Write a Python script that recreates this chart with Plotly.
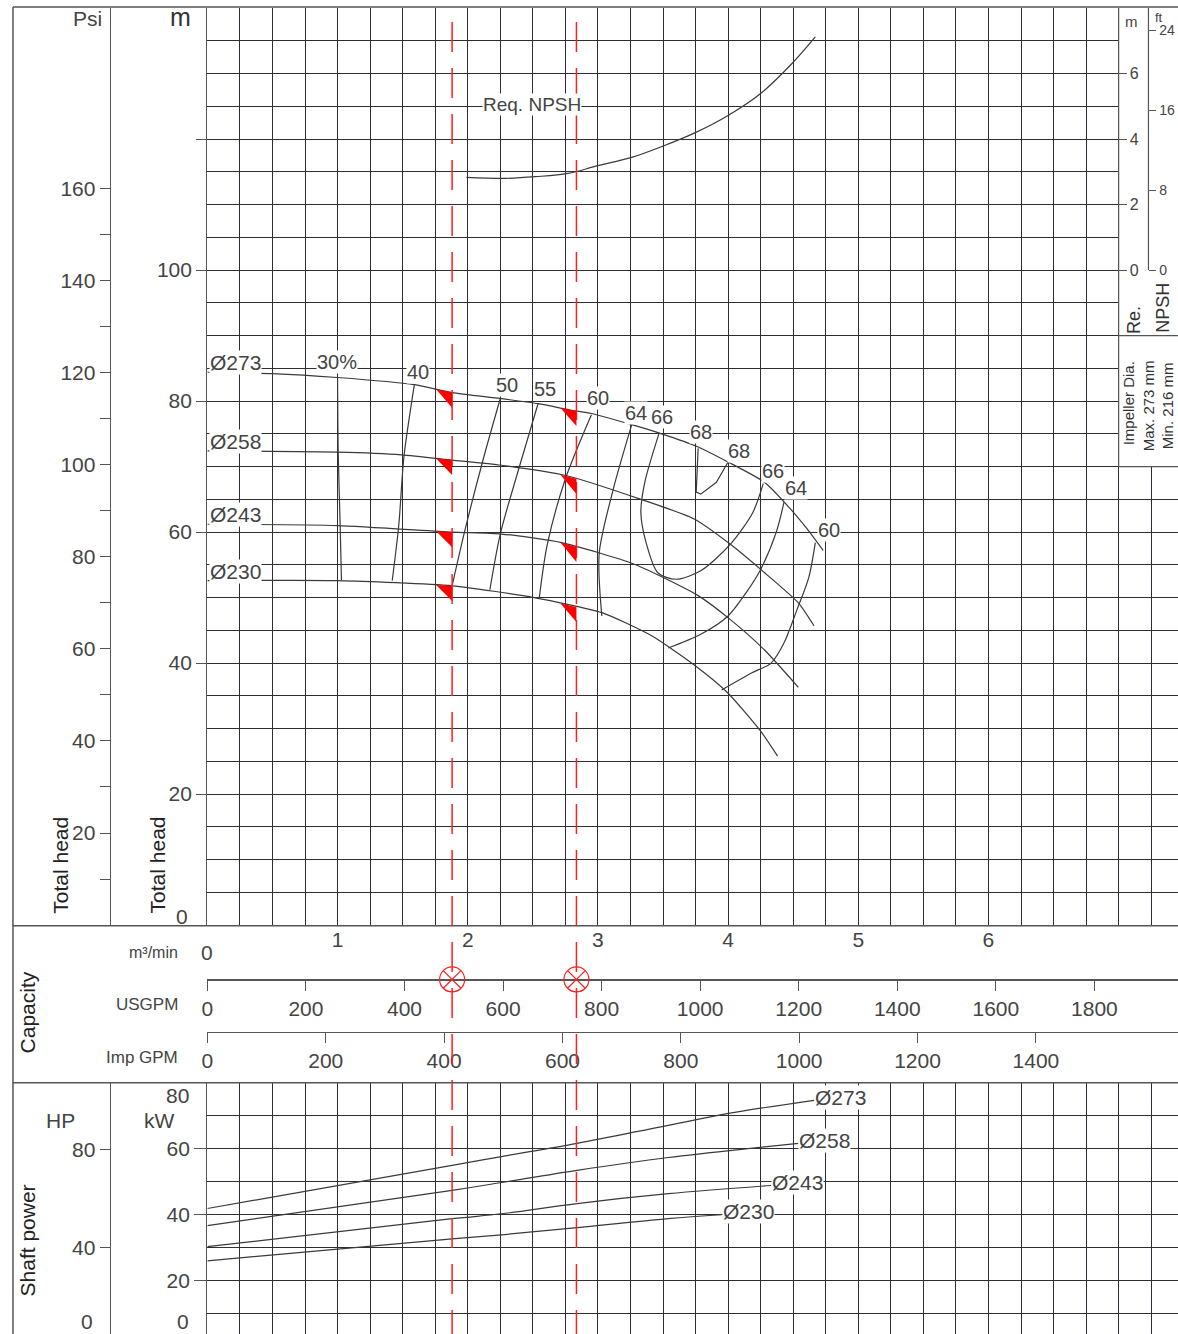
import numpy as np
import plotly.graph_objects as go

W, H = 1178, 1334          # reference picture size
FIG_W, FIG_H = 1178, 1340  # figure size
FONT = "Liberation Sans, Arial, sans-serif"
TXT = "#444444"
GRID = "#2e2e38"
AX = "#555555"
CURVE = "#3a3a3a"
RED = "#ff1f1f"

# ---------------- data ----------------
DIAMETERS = ["Ø273", "Ø258", "Ø243", "Ø230"]

# Head curves: flow (m3/min) vs total head (m)
Q_273 = [0, 0.5, 1.0, 1.59, 1.88, 2.25, 2.54, 2.80, 2.95, 3.26, 3.49, 3.77, 4.0, 4.28, 4.48, 4.61, 4.73]
H_273 = [84.4, 84.2, 83.6, 82.5, 81.3, 80.4, 79.6, 78.6, 78.1, 76.4, 75.0, 73.0, 70.7, 67.6, 63.5, 60.4, 57.2]
Q_258 = [0, 1.0, 1.49, 1.88, 2.26, 2.76, 3.33, 3.74, 4.02, 4.28, 4.54, 4.66]
H_258 = [72.4, 72.2, 71.8, 71.0, 70.2, 68.6, 65.0, 62.0, 58.1, 53.8, 49.2, 45.7]
Q_243 = [0, 1.0, 1.88, 2.26, 2.72, 3.28, 3.77, 4.02, 4.28, 4.54]
H_243 = [61.2, 61.0, 60.0, 59.7, 58.4, 55.1, 50.3, 46.6, 42.0, 36.3]
Q_230 = [0, 1.0, 1.88, 2.51, 3.03, 3.41, 3.74, 4.0, 4.25, 4.38]
H_230 = [52.6, 52.6, 51.8, 50.0, 47.7, 44.2, 39.7, 35.4, 29.6, 25.8]

# Efficiency iso-lines (%)
E30_Q = [1.0, 1.005, 1.02, 1.03];   E30_H = [83.6, 72.2, 61.1, 52.6]
E40_Q = [1.59, 1.51, 1.47, 1.42];   E40_H = [82.5, 71.5, 61.0, 52.6]
E50_Q = [2.25, 2.12, 1.98, 1.88];   E50_H = [80.4, 71.2, 60.4, 51.8]
E55_Q = [2.54, 2.40, 2.25, 2.17];   E55_H = [79.6, 70.2, 59.7, 51.2]
E60L_Q = [2.95, 2.75, 2.61, 2.55];  E60L_H = [77.9, 68.1, 58.0, 50.0]
E64L_Q = [3.26, 3.12, 3.01, 3.03];  E64L_H = [76.4, 66.7, 56.8, 47.2]
E66_Q = [3.47, 3.36, 3.33, 3.37, 3.46, 3.60, 3.79, 4.02, 4.19, 4.27]
E66_H = [75.1, 67.6, 63.0, 58.4, 53.8, 52.8, 54.1, 58.2, 63.0, 67.4]
E68_Q = [3.77, 3.755, 3.79, 3.91, 4.0]
E68_H = [72.8, 66.1, 65.8, 67.6, 70.7]
E64R_Q = [4.43, 4.37, 4.25, 4.14, 4.0, 3.79, 3.54]
E64R_H = [64.6, 60.0, 54.3, 50.8, 47.2, 44.4, 42.3]
E60R_Q = [4.67, 4.62, 4.53, 4.43, 4.33, 4.18, 3.95]
E60R_H = [58.4, 53.1, 48.2, 43.1, 40.0, 38.5, 35.9]

EFF_LABELS = ["30%", "40", "50", "55", "60", "64", "66", "68", "68", "66", "64", "60"]
EFF_LAB_Q = [0.996, 1.617, 2.30, 2.59, 3.00, 3.295, 3.494, 3.793, 4.084, 4.345, 4.521, 4.774]
EFF_LAB_H = [85.9, 84.4, 82.4, 81.9, 80.4, 78.2, 77.5, 75.3, 72.4, 69.3, 66.7, 60.3]

# Required NPSH (m)
NPSH_Q = [1.99, 2.29, 2.52, 2.77, 3.00, 3.26, 3.51, 3.74, 4.00, 4.25, 4.48, 4.67]
NPSH_M = [2.83, 2.80, 2.85, 2.95, 3.19, 3.44, 3.80, 4.18, 4.72, 5.39, 6.26, 7.12]

# Shaft power (kW)
PQ_273 = [0, 1.88, 2.26, 2.84, 3.54, 4.05, 4.66];  P_273 = [41.8, 54.9, 57.6, 61.6, 67.1, 71.0, 74.7]
PQ_258 = [0, 1.88, 2.26, 2.84, 3.54, 4.25, 4.54];  P_258 = [36.6, 47.3, 49.7, 53.4, 57.3, 60.4, 61.6]
PQ_243 = [0, 1.88, 2.26, 2.84, 3.54, 4.33];        P_243 = [30.2, 38.7, 40.2, 43.3, 46.3, 48.8]
PQ_230 = [0, 1.88, 2.26, 2.84, 3.54, 3.95];        P_230 = [25.9, 32.6, 33.8, 36.0, 38.7, 39.9]

# Operating points (m3/min)
OP_Q = [1.88, 2.835]

# Tick labels
Q_TICKS = [1, 2, 3, 4, 5, 6]
M_TICKS = [0, 20, 40, 60, 80, 100]
PSI_TICKS = [20, 40, 60, 80, 100, 120, 140, 160]
NPSH_TICKS = [0, 2, 4, 6]
FT_TICKS = [0, 8, 16, 24]
USGPM_TICKS = [0, 200, 400, 600, 800, 1000, 1200, 1400, 1600, 1800]
IMPGPM_TICKS = [0, 200, 400, 600, 800, 1000, 1200, 1400]
KW_TICKS = [20, 40, 60]
HP_TICKS = [40, 80]

# unit conversions
PSI_PER_M = 1.42233
FT_PER_M = 3.28084
USG_PER_M3MIN = 264.172
IMP_PER_M3MIN = 219.969
HP_PER_KW = 1.34102

# ---------------- layout geometry (reference pixel positions) ----------------
X0PX, X_MAX = 205, 7.456
HEAD_TOP, HEAD_BOT = 8, 921
CAP_BOT = 1078
H_MAX = 140.0
KW_MIN, KW_MAX = 1.83, 80.0
XS = (W - X0PX) / X_MAX
YS = (HEAD_BOT - HEAD_TOP) / H_MAX
X_OFF, X_SC = 3.0, 0.998   # small horizontal correction of the rendering


def px(x):
    return min(max((x - X_OFF) / X_SC / FIG_W, 0.0), 1.0)


def py(y):
    return 1 - y / H


fig = go.Figure()

line_style = dict(color=CURVE, width=1.2)

# head curves
for Qd, Hd in [(Q_273, H_273), (Q_258, H_258), (Q_243, H_243), (Q_230, H_230)]:
    fig.add_trace(go.Scatter(x=Qd, y=Hd, mode="lines", line=dict(shape="spline", smoothing=0.6, **line_style),
                             xaxis="x", yaxis="y", hoverinfo="skip"))

# efficiency lines
for Qd, Hd, shp in [(E30_Q, E30_H, "spline"), (E40_Q, E40_H, "spline"), (E50_Q, E50_H, "spline"),
                    (E55_Q, E55_H, "spline"), (E60L_Q, E60L_H, "spline"), (E64L_Q, E64L_H, "spline"),
                    (E66_Q, E66_H, "spline"), (E68_Q, E68_H, "linear"), (E64R_Q, E64R_H, "spline"),
                    (E60R_Q, E60R_H, "spline")]:
    ls = dict(shape=shp, **line_style)
    if shp == "spline":
        ls["smoothing"] = 0.8
    fig.add_trace(go.Scatter(x=Qd, y=Hd, mode="lines", line=ls, xaxis="x", yaxis="y", hoverinfo="skip"))

# NPSH curve on NPSH axis
fig.add_trace(go.Scatter(x=NPSH_Q, y=NPSH_M, mode="lines", line=dict(shape="spline", **line_style),
                         xaxis="x", yaxis="y3", hoverinfo="skip"))

# dummy traces for extra axes
for xa, ya in [("x", "y4"), ("x", "y7"), ("x2", "y"), ("x3", "y"), ("x4", "y6")]:
    fig.add_trace(go.Scatter(x=[None], y=[None], mode="markers", xaxis=xa, yaxis=ya, hoverinfo="skip"))

# power curves
for Qd, Pd in [(PQ_273, P_273), (PQ_258, P_258), (PQ_243, P_243), (PQ_230, P_230)]:
    fig.add_trace(go.Scatter(x=Qd, y=Pd, mode="lines", line=dict(shape="spline", **line_style),
                             xaxis="x4", yaxis="y2", hoverinfo="skip"))

# operating point markers on the capacity scale
fig.add_trace(go.Scatter(x=OP_Q, y=[0.656] * len(OP_Q), mode="markers",
                         marker=dict(symbol="circle-x-open", size=25, color=RED, line=dict(width=1.2, color=RED)),
                         xaxis="x5", yaxis="y5", hoverinfo="skip"))

shapes = []
# red dashed operating lines
for q in OP_Q:
    shapes.append(dict(type="line", xref="x", yref="paper", x0=q, x1=q, y0=0, y1=py(10),
                       line=dict(color=RED, width=1.5, dash="30px,16px"), layer="above"))

# red triangles at intersections with head curves
dq = 16 / XS
dh = 15 / YS
for Qd, Hd in [(Q_273, H_273), (Q_258, H_258), (Q_243, H_243), (Q_230, H_230)]:
    for q in OP_Q:
        h = float(np.interp(q, Qd, Hd))
        hl = float(np.interp(q - dq, Qd, Hd))
        shapes.append(dict(type="path", xref="x", yref="y",
                           path=f"M {q - dq:.4f},{hl:.3f} L {q:.4f},{h:.3f} L {q:.4f},{h - dh:.3f} Z",
                           fillcolor="#ff0000", line=dict(width=0), layer="above"))

# NPSH box in the top-right corner
shapes.append(dict(type="rect", xref="x", yref="y", x0=7.0, x1=X_MAX + 0.1, y0=70, y1=H_MAX,
                   fillcolor="white", line=dict(width=0), layer="between"))
shapes.append(dict(type="line", xref="x", yref="y", x0=7.0, x1=7.0, y0=70, y1=H_MAX, line=dict(color=AX, width=1.2)))
shapes.append(dict(type="line", xref="x", yref="y", x0=7.0, x1=X_MAX + 0.1, y0=70, y1=70, line=dict(color=AX, width=1.2)))
shapes.append(dict(type="line", xref="x", yref="y", x0=7.0, x1=X_MAX + 0.1, y0=90, y1=90, line=dict(color=AX, width=1.2)))
shapes.append(dict(type="line", xref="paper", yref="y7", x0=px(1149), x1=px(1149), y0=0, y1=8 * FT_PER_M,
                   line=dict(color=AX, width=1.2)))

# frame lines
for y in [7, 921.5, CAP_BOT]:
    shapes.append(dict(type="line", xref="paper", yref="paper", x0=px(10), x1=1, y0=py(y), y1=py(y),
                       line=dict(color=AX, width=1.5)))
shapes.append(dict(type="line", xref="paper", yref="paper", x0=px(10), x1=px(10), y0=0, y1=py(7),
                   line=dict(color=AX, width=1.5)))

ann = []


def A(text, x, y, size=20, xanchor="center", yanchor="middle", angle=0, color=TXT, xref="paper", yref="paper",
      bg=None, yshift=0):
    d = dict(text=text, x=x, y=y, xref=xref, yref=yref, showarrow=False, xanchor=xanchor, yanchor=yanchor,
             textangle=angle, font=dict(size=size, color=color, family=FONT), yshift=yshift, borderpad=0)
    if bg:
        d["bgcolor"] = bg
    ann.append(d)


# left side labels
A("Psi", px(85), py(18), 21)
A("m", px(178), py(17), 25, color="#333")
A("0", px(180), py(912), 21)
A("Total head", px(58), py(861), 21, angle=-90, color="#222")
A("Total head", px(155), py(861), 21, angle=-90, color="#222")
A("m³/min", px(177), py(948), 16, xanchor="right")
A("0", px(205), py(948), 21)
A("USGPM", px(177), py(1000), 17, xanchor="right")
A("Imp GPM", px(177), py(1053), 17, xanchor="right")
A("Capacity", px(25), py(1008), 21, angle=-90, color="#222")
A("HP", px(58), py(1115), 21)
A("kW", px(157), py(1115), 21)
A("Shaft power", px(25), py(1235), 21, angle=-90, color="#222")
A("80", px(175), py(1091), 21)
A("0", px(181), py(1316), 21)
A("0", px(84), py(1316), 21)

# right box labels
A("m", px(1132), py(21), 15)
A("ft", px(1160), py(17), 13)
A("Re.", px(1135), py(318), 18, angle=-90, color="#333")
A("NPSH", px(1164), py(306), 18, angle=-90, color="#333")
A("Impeller Dia.", px(1129), py(402), 15, angle=-90, color="#333")
A("Max. 273 mm", px(1149), py(404), 15, angle=-90, color="#333")
A("Min. 216 mm", px(1168), py(404), 15, angle=-90, color="#333")

# curve labels
for name, Hd in zip(DIAMETERS, [H_273, H_258, H_243, H_230]):
    A(name, 0.015, Hd[0], 21, xanchor="left", yanchor="bottom", xref="x", yref="y", bg="white", yshift=-3)
for name, Qd, Pd in zip(DIAMETERS, [PQ_273, PQ_258, PQ_243, PQ_230], [P_273, P_258, P_243, P_230]):
    A(name, Qd[-1], Pd[-1], 21, xanchor="left", xref="x4", yref="y2", bg="white", yshift=3)
for t, q, h in zip(EFF_LABELS, EFF_LAB_Q, EFF_LAB_H):
    A(t, q, h, 20, xref="x", yref="y", bg="white")
A("Req. NPSH", 2.49, 125.3, 19, xref="x", yref="y", bg="white")

tickfont = dict(size=21, color=TXT, family=FONT)
common_grid = dict(showgrid=True, gridcolor=GRID, gridwidth=1, zeroline=False)
mgrid = dict(showgrid=True, gridcolor=GRID, gridwidth=1, ticks="")

fig.update_layout(
    width=FIG_W, height=FIG_H, margin=dict(l=0, r=0, t=0, b=0),
    paper_bgcolor="white", plot_bgcolor="white", showlegend=False,
    font=dict(family=FONT, size=20, color=TXT),
    shapes=shapes, annotations=ann,
    xaxis=dict(domain=[px(X0PX), 1], range=[0, X_MAX], anchor="y", tickmode="array",
               tickvals=Q_TICKS, ticktext=[str(v) for v in Q_TICKS], ticks="", tickfont=tickfont,
               minor=dict(tick0=0, dtick=0.25, **mgrid),
               showline=False, fixedrange=True, **common_grid),
    yaxis=dict(domain=[py(HEAD_BOT), py(HEAD_TOP)], range=[0, H_MAX], anchor="x", tickmode="array",
               tickvals=M_TICKS + [120], ticktext=[""] + [str(v) for v in M_TICKS[1:]] + [""],
               ticks="outside", ticklen=10, tickcolor=AX, tickfont=tickfont,
               minor=dict(tick0=0, dtick=5, **mgrid),
               showline=True, linecolor=AX, linewidth=1.2, fixedrange=True, **common_grid),
    yaxis3=dict(overlaying="y", anchor="free", position=px(1118), side="right", range=[-20, 8],
                tickmode="array", tickvals=NPSH_TICKS, ticks="outside", ticklen=8, tickcolor=AX,
                tickfont=dict(size=16, color=TXT), showgrid=False, zeroline=False, showline=False),
    yaxis4=dict(overlaying="y", anchor="free", position=px(107), side="left", range=[0, H_MAX * PSI_PER_M],
                tickmode="array", tickvals=list(range(10, 161, 10)),
                ticktext=[str(v) if v in PSI_TICKS else "" for v in range(10, 161, 10)],
                ticks="outside", ticklen=10, tickcolor=AX, tickfont=tickfont,
                showgrid=False, zeroline=False, showline=True, linecolor=AX, linewidth=1.2),
    yaxis7=dict(overlaying="y", anchor="free", position=px(1149), side="right",
                range=[-20 * FT_PER_M, 8 * FT_PER_M], tickmode="array", tickvals=FT_TICKS, ticks="outside",
                ticklen=7, tickcolor=AX, tickfont=dict(size=14, color=TXT),
                showgrid=False, zeroline=False, showline=False),
    xaxis2=dict(overlaying="x", anchor="free", position=py(975), side="bottom",
                range=[0, X_MAX * USG_PER_M3MIN], tickmode="array", tickvals=USGPM_TICKS, ticks="outside",
                ticklen=10, tickcolor=AX, tickfont=tickfont, showgrid=False, zeroline=False,
                showline=True, linecolor=AX, linewidth=1.5),
    xaxis3=dict(overlaying="x", anchor="free", position=py(1027), side="bottom",
                range=[0, X_MAX * IMP_PER_M3MIN], tickmode="array", tickvals=IMPGPM_TICKS, ticks="outside",
                ticklen=10, tickcolor=AX, tickfont=tickfont, showgrid=False, zeroline=False,
                showline=True, linecolor=AX, linewidth=1.5),
    xaxis5=dict(domain=[px(X0PX), 1], range=[0, X_MAX], anchor="y5", visible=False),
    yaxis5=dict(domain=[py(CAP_BOT), py(HEAD_BOT)], range=[0, 1], anchor="x5", visible=False),
    xaxis4=dict(domain=[px(X0PX), 1], range=[0, X_MAX], anchor="y2", showticklabels=False, ticks="",
                tickmode="linear", tick0=0, dtick=0.25, showline=False, **common_grid),
    yaxis2=dict(domain=[0, py(CAP_BOT)], range=[KW_MIN, KW_MAX], anchor="x4", tickmode="array",
                tickvals=KW_TICKS, ticks="outside", ticklen=12, tickcolor=AX, tickfont=tickfont,
                minor=dict(tick0=0, dtick=10, **mgrid),
                showline=True, linecolor=AX, linewidth=1.2, **common_grid),
    yaxis6=dict(overlaying="y2", anchor="free", position=px(107), side="left",
                range=[KW_MIN * HP_PER_KW, KW_MAX * HP_PER_KW], tickmode="array", tickvals=HP_TICKS,
                ticks="outside", ticklen=10, tickcolor=AX, tickfont=tickfont,
                showgrid=False, zeroline=False, showline=True, linecolor=AX, linewidth=1.2),
)

fig.write_html(
    "out.html",
    config={"displayModeBar": False, "staticPlot": True},
    post_script=("document.documentElement.style.overflow='hidden';"
                 "document.body.style.margin='0px';document.body.style.padding='0px';"
                 "document.body.style.overflow='hidden';"),
)
